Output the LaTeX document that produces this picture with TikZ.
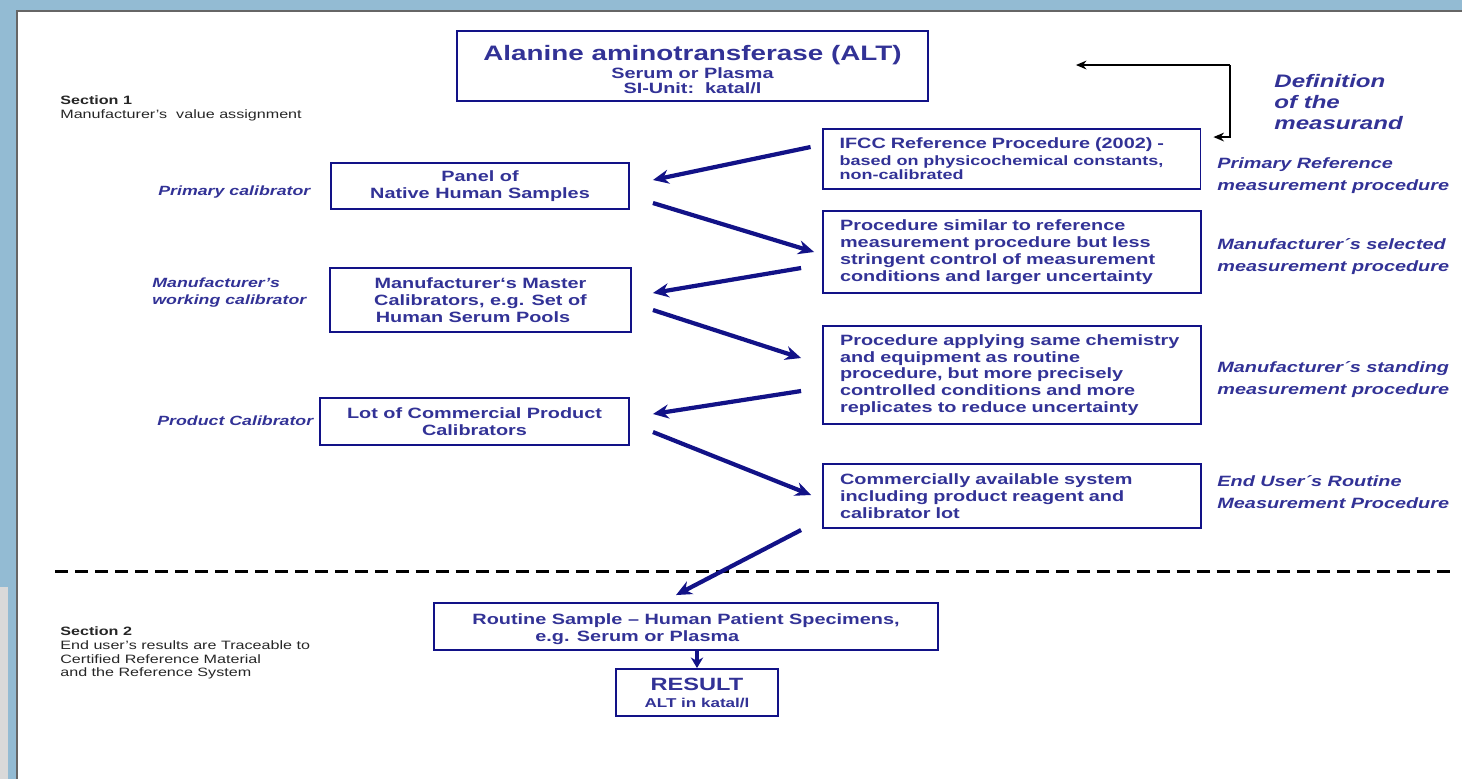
\documentclass[tikz,border=0pt]{standalone}
\usepackage{fontspec}
\setmainfont{Liberation Sans}[FakeStretch=1.33]
\usepackage{tikz}
\usetikzlibrary{positioning}
\usetikzlibrary{calc}
\usetikzlibrary{arrows.meta}

\definecolor{navy}{RGB}{18,18,135}
\definecolor{labelblue}{RGB}{50,50,150}
\definecolor{bandblue}{RGB}{147,187,211}

\begin{document}
\begin{tikzpicture}[x=0.02cm, y=-0.02cm,
    box/.style={draw=navy, line width=1.1pt, text=labelblue, inner sep=0pt,
        font=\bfseries\fontsize{8.5}{9.6}\selectfont},
    procbox/.style={box, align=left, text width=6.88cm, inner xsep=0.34cm,
        minimum width=7.56cm},
    sidelabel/.style={anchor=west, inner sep=0pt, align=left, text=labelblue,
        font=\bfseries\itshape\fontsize{8.5}{12.5}\selectfont},
    calib/.style={anchor=west, inner sep=0pt, align=left, text=labelblue,
        font=\bfseries\itshape\fontsize{7.6}{9.6}\selectfont},
    section/.style={anchor=west, inner sep=0pt, align=left, text=black!85,
        font=\fontsize{6.9}{7.9}\selectfont},
    flow/.style={navy, line width=2.4pt, -{Stealth[length=9pt, width=8pt]}},
    defarrow/.style={black, line width=0.9pt, -{Stealth[length=6pt, width=5pt]}}
    ]
    \useasboundingbox (0,0) rectangle (1462,779);

    % slide frame
    \fill[bandblue] (0,0) rectangle (1462,10);
    \fill[bandblue] (0,0) rectangle (16,779);
    \fill[black!15] (0,587) rectangle (8,779);
    \draw[black!60, line width=1pt] (17,779) -- (17,11) -- (1462,11);

    % measurand
    \node[box, align=center, minimum width=9.42cm, minimum height=1.4cm] (title) at (692.5,66)
        {\rule{0pt}{13pt}{\fontsize{11.9}{13}\selectfont Alanine aminotransferase (ALT)}\\[0.2pt]
         Serum or Plasma\\[-0.8pt]
         SI-Unit:\ \ katal/l};

    \node[section] (sec1) at (60,108)
        {\textbf{Section 1}\\Manufacturer's\ \ value assignment};

    % measurement procedures (right column)
    \node[procbox, minimum height=1.2cm] (ifcc) at (1011.5,159)
        {IFCC Reference Procedure (2002) -\\
         {\fontsize{7.7}{9.6}\selectfont based on physicochemical constants,}\\[-1.7pt]
         {\fontsize{7.7}{9.6}\selectfont non-calibrated}};
    \node[procbox, minimum height=1.64cm] (similar) at (1012,252)
        {Procedure similar to reference\\
         measurement procedure but less\\
         stringent control of measurement\\
         conditions and larger uncertainty};
    \node[procbox, minimum height=1.96cm] (applying) at (1012,375)
        {Procedure applying same chemistry\\
         and equipment as routine\\
         procedure, but more precisely\\
         controlled conditions and more\\
         replicates to reduce uncertainty};
    \node[procbox, minimum height=1.28cm] (commercial) at (1012,496)
        {Commercially available system\\
         including product reagent and\\
         calibrator lot};

    % calibrators (left column)
    \node[box, align=center, minimum width=5.96cm, minimum height=0.92cm] (panel) at (480,186)
        {Panel of\\Native Human Samples};
    \node[box, align=center, minimum width=6.02cm, minimum height=1.28cm] (master) at (480.5,300)
        {Manufacturer`s Master\\Calibrators, e.g. Set of\\Human Serum Pools\hspace*{0.3cm}};
    \node[box, align=center, minimum width=6.18cm, minimum height=0.94cm] (lot) at (474.5,421.5)
        {Lot of Commercial Product\\Calibrators};

    \node[calib] (primcal) at (158,192) {Primary calibrator};
    \node[calib] (workcal) at (152,292.5) {Manufacturer's\\working calibrator};
    \node[calib] (prodcal) at (157,421) {Product Calibrator};

    % right hand labels
    \node[sidelabel, font=\bfseries\itshape\fontsize{10.3}{11.9}\selectfont] (defn) at (1274,102)
        {Definition\\of the\\measurand};
    \node[sidelabel] (primref) at (1217,175.5) {Primary Reference\\measurement procedure};
    \node[sidelabel] (selected) at (1217,257) {Manufacturer´s selected\\measurement procedure};
    \node[sidelabel] (standing) at (1217,380) {Manufacturer´s standing\\measurement procedure};
    \node[sidelabel] (enduser) at (1217,492.5) {End User´s Routine\\Measurement Procedure};

    % definition of the measurand
    \coordinate (bend) at (1230,65);
    \draw[defarrow] (bend) -- ($(title.east)+(147,-1)$);
    \draw[defarrow] (bend) |- ($(ifcc.north east)+(12,9)$);

    % value transfer
    \draw[flow] ($(ifcc.west)+(-11,-12)$) -- ($(panel.east)+(23,-6)$);
    \draw[flow] ($(panel.east)+(23,17)$) -- ($(similar.west)+(-8,0)$);
    \draw[flow] ($(similar.west)+(-21,16)$) -- ($(master.east)+(21,-7)$);
    \draw[flow] ($(master.east)+(21,10)$) -- ($(applying.west)+(-21,-17)$);
    \draw[flow] ($(applying.west)+(-21,16)$) -- ($(lot.east)+(23,-7.5)$);
    \draw[flow] ($(lot.east)+(23,10.5)$) -- ($(commercial.west)+(-11,-1)$);

    % section border
    \draw[black, line width=1.7pt, dash pattern=on 7.4pt off 4pt] (55,571) -- (1455,571);

    % end user
    \node[box, align=left, minimum width=10.08cm, minimum height=0.94cm] (routine) at (686,626.5)
        {\rule{0pt}{9.5pt}Routine Sample -- Human Patient Specimens,\\
         \hspace*{1.26cm}e.g. Serum or Plasma};
    \node[box, align=center, minimum width=3.24cm, minimum height=0.94cm] (result) at (697,692.5)
        {{\fontsize{10.1}{11}\selectfont RESULT}\\
         {\fontsize{7.3}{8}\selectfont ALT in katal/l}};

    \draw[flow] ($(commercial.west)+(-21,34)$) -- ($(routine.north)+(-10,-7)$);
    \draw[navy, line width=2.4pt, -{Stealth[length=6pt, width=7pt]}]
        (result.north |- routine.south) -- (result.north);

    \node[section] (sec2) at (60,653)
        {\textbf{Section 2}\\End user's results are Traceable to\\Certified Reference Material\\and the Reference System};
\end{tikzpicture}
\end{document}
